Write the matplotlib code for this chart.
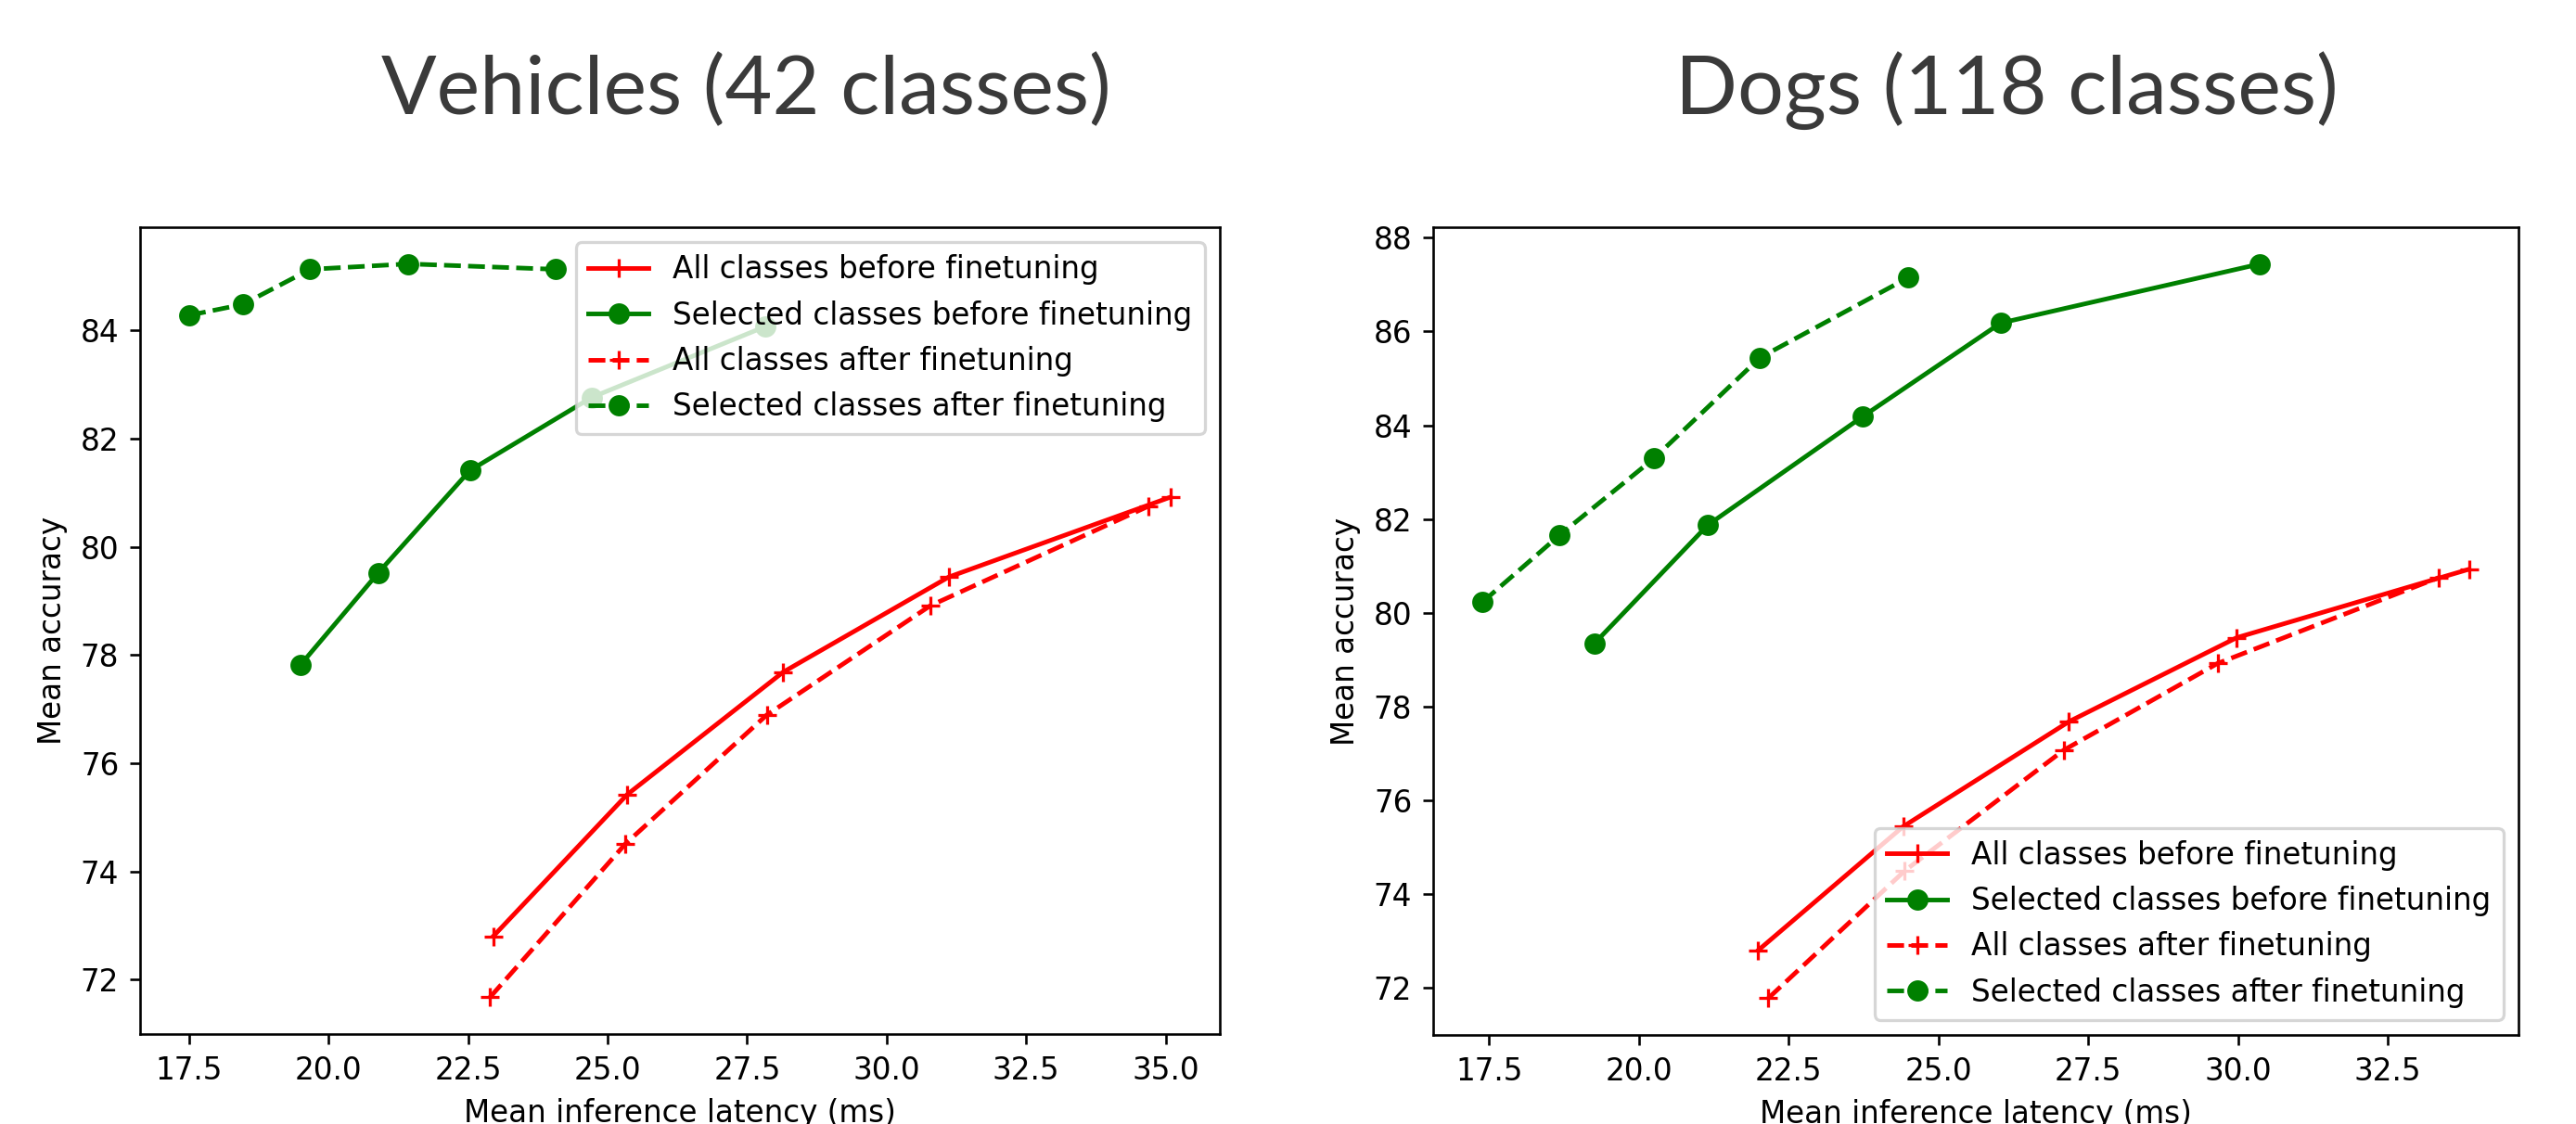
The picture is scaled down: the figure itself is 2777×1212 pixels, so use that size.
import matplotlib
matplotlib.use("Agg")
import matplotlib.pyplot as plt

# --- data ---
# Vehicles (42 classes)
veh_all_before_x = [22.95, 25.35, 28.14, 31.11, 35.09]
veh_all_before_y = [72.80, 75.42, 77.68, 79.44, 80.92]
veh_sel_before_x = [19.49, 20.89, 22.53, 24.71, 27.82]
veh_sel_before_y = [77.81, 79.52, 81.41, 82.76, 84.07]
veh_all_after_x = [22.89, 25.32, 27.85, 30.78, 34.69]
veh_all_after_y = [71.67, 74.51, 76.89, 78.91, 80.75]
veh_sel_after_x = [17.50, 18.46, 19.67, 21.43, 24.06]
veh_sel_after_y = [84.28, 84.48, 85.13, 85.23, 85.13]

# Dogs (118 classes)
dog_all_before_x = [21.99, 24.41, 27.18, 29.98, 33.86]
dog_all_before_y = [72.80, 75.44, 77.68, 79.47, 80.93]
dog_sel_before_x = [19.26, 21.15, 23.73, 26.04, 30.37]
dog_sel_before_y = [79.35, 81.87, 84.18, 86.18, 87.44]
dog_all_after_x = [22.16, 24.44, 27.09, 29.66, 33.35]
dog_all_after_y = [71.78, 74.50, 77.07, 78.92, 80.75]
dog_sel_after_x = [17.39, 18.68, 20.25, 22.02, 24.50]
dog_sel_after_y = [80.23, 81.66, 83.29, 85.44, 87.15]

labels = ["All classes before finetuning", "Selected classes before finetuning",
          "All classes after finetuning", "Selected classes after finetuning"]

W, H, DPI = 2777, 1212, 235
fig = plt.figure(figsize=(W / DPI, H / DPI), dpi=DPI)


def panel(rect, series, legend_loc):
    ax = fig.add_axes(rect)
    ax.plot(series[0][0], series[0][1], 'r-+', label=labels[0])
    ax.plot(series[1][0], series[1][1], 'g-o', label=labels[1])
    ax.plot(series[2][0], series[2][1], 'r--+', label=labels[2])
    ax.plot(series[3][0], series[3][1], 'g--o', label=labels[3])
    ax.set_xlabel("Mean inference latency (ms)")
    ax.set_ylabel("Mean accuracy")
    ax.legend(loc=legend_loc)
    return ax


def px_rect(x0, y0, x1, y1):
    return [x0 / W, 1 - y1 / H, (x1 - x0) / W, (y1 - y0) / H]


panel(px_rect(151, 245, 1315, 1115),
      [(veh_all_before_x, veh_all_before_y), (veh_sel_before_x, veh_sel_before_y),
       (veh_all_after_x, veh_all_after_y), (veh_sel_after_x, veh_sel_after_y)],
      "upper right")
panel(px_rect(1545, 245, 2715, 1116),
      [(dog_all_before_x, dog_all_before_y), (dog_sel_before_x, dog_sel_before_y),
       (dog_all_after_x, dog_all_after_y), (dog_sel_after_x, dog_sel_after_y)],
      "lower right")

# slide-style titles
fig.text(804 / W, 1 - 123 / H, "Vehicles (42 classes)", ha="center", va="baseline",
         fontsize=27, color="#3a3a3a", family="Lato")
fig.text(2163 / W, 1 - 123 / H, "Dogs (118 classes)", ha="center", va="baseline",
         fontsize=27, color="#3a3a3a", family="Lato")

fig.savefig("out.png", dpi=DPI)
